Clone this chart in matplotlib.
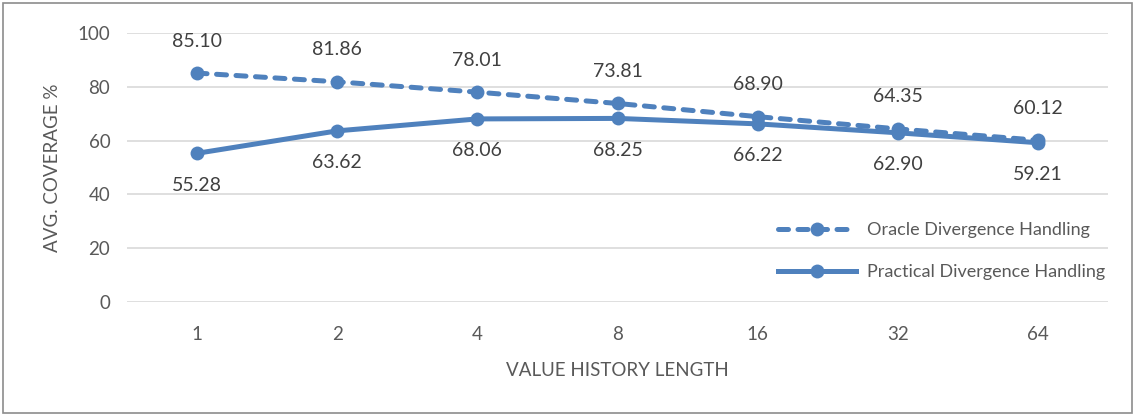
import matplotlib.pyplot as plt
from matplotlib.patches import Rectangle
from matplotlib.lines import Line2D

# datos del grafico
history_len = ['1', '2', '4', '8', '16', '32', '64']
oracle = [85.10, 81.86, 78.01, 73.81, 68.90, 64.35, 60.12]
practical = [55.28, 63.62, 68.06, 68.25, 66.22, 62.90, 59.21]
serie_names = ['Oracle Divergence Handling', 'Practical Divergence Handling']

azul = '#4f81bd'
gris_txt = '#595959'

plt.rcParams['font.family'] = ['Lato', 'DejaVu Sans']

fig = plt.figure(figsize=(11.35, 4.16), dpi=100)
ax = fig.add_axes([127 / 1135, 1 - 302 / 416, (1108 - 127) / 1135, (302 - 33) / 416])

x = list(range(len(history_len)))

ax.plot(x, oracle, color=azul, lw=3.6, marker='o', ms=10, mew=0, dashes=(2.0, 1.9),
        dash_capstyle='round', solid_capstyle='round')
ax.plot(x, practical, color=azul, lw=3.6, marker='o', ms=10, mew=0, solid_capstyle='round')

# etiquetas de datos
for i in x:
    ax.annotate('%.2f' % oracle[i], (i, oracle[i]), xytext=(0, 23), textcoords='offset points',
                ha='center', va='center', fontsize=14, color='#404040')
    ax.annotate('%.2f' % practical[i], (i, practical[i]), xytext=(0, -23), textcoords='offset points',
                ha='center', va='center', fontsize=14, color='#404040')

ax.set_xlim(-0.5, len(x) - 0.5)
ax.set_ylim(0, 100)
ax.set_yticks(range(0, 101, 20))
ax.set_xticks(x)
ax.set_xticklabels(history_len)
ax.grid(axis='y', color='#d9d9d9', lw=1.2)
ax.set_axisbelow(True)
for s in ax.spines.values():
    s.set_visible(False)
ax.tick_params(length=0, labelsize=13.5, labelcolor=gris_txt)
ax.tick_params(axis='x', pad=17)
ax.tick_params(axis='y', pad=12)
ax.set_xlabel('VALUE HISTORY LENGTH', fontsize=13.5, color=gris_txt, labelpad=14)
ax.set_ylabel('AVG. COVERAGE %', fontsize=13.5, color=gris_txt, labelpad=12)

# leyenda
handles = [Line2D([], [], color=azul, lw=3.6, marker='o', ms=10, mew=0, dashes=(2.0, 1.9),
                  dash_capstyle='round'),
           Line2D([], [], color=azul, lw=3.6, marker='o', ms=10, mew=0)]
leg = fig.legend(handles, serie_names, loc='upper left', bbox_to_anchor=(762 / 1135, 1 - 206 / 416),
                 frameon=False, fontsize=13, labelcolor=gris_txt, handlelength=4.3,
                 labelspacing=1.45, handletextpad=0.6)

# borde de la figura
fig.patches.append(Rectangle((3 / 1135, 3 / 416), 1 - 6 / 1135, 1 - 6 / 416, transform=fig.transFigure,
                             fill=False, edgecolor='#8c8c8c', lw=1.2))

fig.savefig('out.png', dpi=100)
